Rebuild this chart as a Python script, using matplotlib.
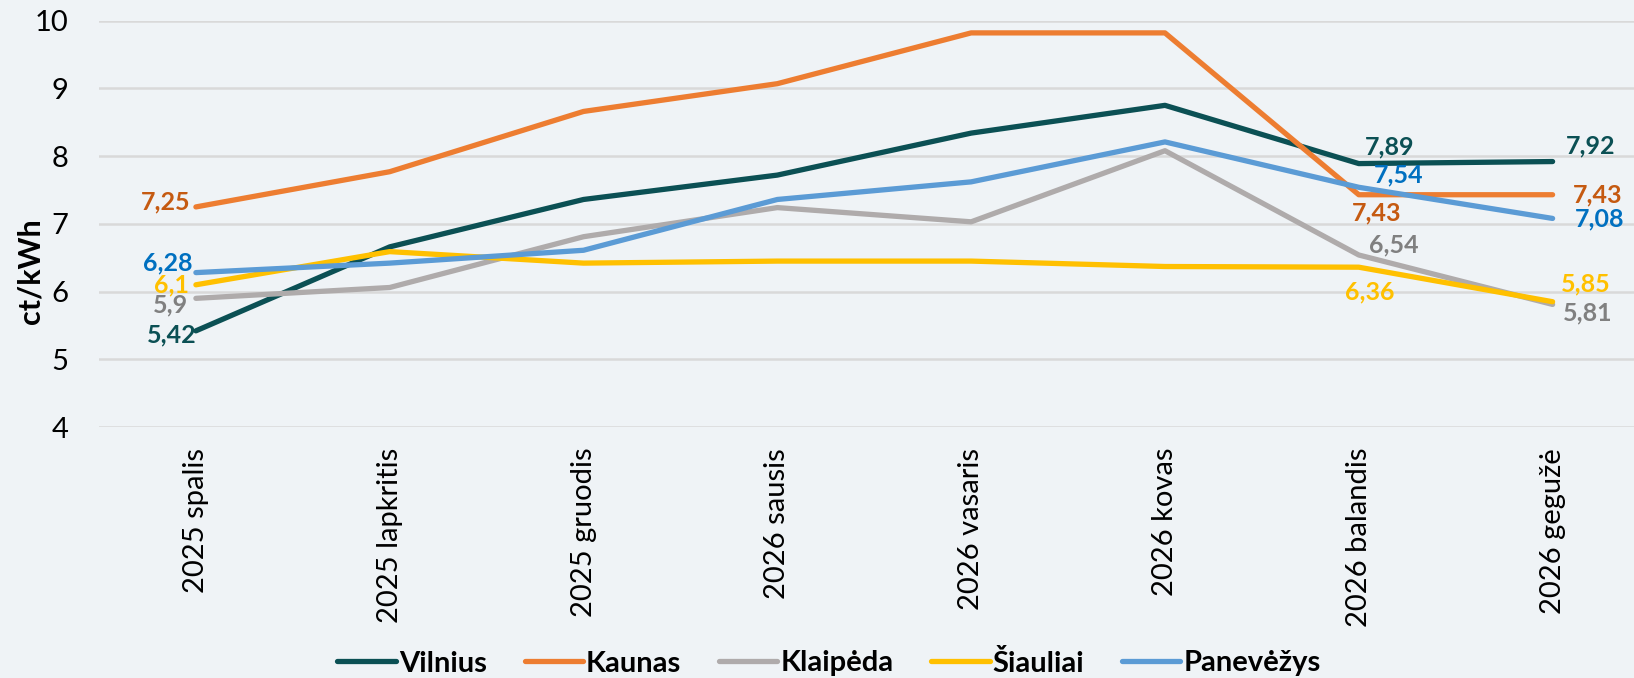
import matplotlib
matplotlib.use("Agg")
import matplotlib.pyplot as plt

plt.rcParams["font.family"] = ["Lato", "DejaVu Sans"]

months = ["2025 spalis", "2025 lapkritis", "2025 gruodis", "2026 sausis",
          "2026 vasaris", "2026 kovas", "2026 balandis", "2026 gegužė"]

vilnius = [5.42, 6.66, 7.36, 7.72, 8.34, 8.75, 7.89, 7.92]
kaunas = [7.25, 7.77, 8.66, 9.07, 9.82, 9.82, 7.43, 7.43]
klaipeda = [5.90, 6.06, 6.81, 7.24, 7.03, 8.08, 6.54, 5.81]
siauliai = [6.10, 6.59, 6.42, 6.45, 6.45, 6.37, 6.36, 5.85]
panevezys = [6.28, 6.42, 6.61, 7.36, 7.62, 8.21, 7.54, 7.08]

# (name, values, line colour, label colour)
series = [
    ("Vilnius", vilnius, "#0B5054", "#0B5054"),
    ("Kaunas", kaunas, "#ED7D31", "#C55A11"),
    ("Klaipėda", klaipeda, "#AFABAB", "#808080"),
    ("Šiauliai", siauliai, "#FFC000", "#FFC000"),
    ("Panevėžys", panevezys, "#5B9BD5", "#0070C0"),
]

# which points get a value label, and pixel offsets for them
label_spots = {
    "Vilnius": [(0, -24, -4), (6, 31, 17), (7, 38, 16)],
    "Kaunas": [(0, -30, 5), (6, 18, -18), (7, 45, 0)],
    "Klaipėda": [(0, -25, -7), (6, 35, 10), (7, 35, -8)],
    "Šiauliai": [(0, -24, 0), (6, 11, -25), (7, 33, 18)],
    "Panevėžys": [(0, -28, 10), (6, 40, 12), (7, 47, 0)],
}

bg = "#EFF3F6"
fig = plt.figure(figsize=(16.34, 6.78), dpi=100, facecolor=bg)
ax = fig.add_axes([99 / 1634, 1 - 427 / 678, 1 - 99 / 1634, (427 - 20.7) / 678])
ax.set_facecolor(bg)

x = list(range(len(months)))
for name, vals, col, lcol in series:
    ax.plot(x, vals, color=col, lw=3.8, label=name, solid_capstyle="round", zorder=3)
    for i, dx, dy in label_spots[name]:
        txt = f"{vals[i]:.2f}".rstrip("0").replace(".", ",")
        ax.annotate(txt, (x[i], vals[i]), xytext=(dx, dy), textcoords="offset pixels",
                    ha="center", va="center", color=lcol, fontsize=18,
                    fontweight="bold", zorder=4)

ax.set_xlim(-0.5, 7.42)
ax.set_ylim(4, 10)
ax.set_yticks(range(4, 11))
ax.set_xticks(x)
ax.set_xticklabels(months, rotation=90, fontsize=21)
ax.tick_params(axis="y", labelsize=21, length=0, pad=22)
ax.tick_params(axis="x", length=0, pad=15)
ax.grid(axis="y", color="#D9D9D9", lw=1.8, zorder=0)
for sp in ax.spines.values():
    sp.set_visible(False)

fig.text(30 / 1634, 1 - 271 / 678, "ct/kWh", rotation=90, ha="center", va="center",
         fontsize=22, fontweight="bold")

fig.legend(loc="center", bbox_to_anchor=(829 / 1634, 1 - 663 / 678), ncol=5,
           frameon=False, prop={"weight": "bold", "size": 21}, handlelength=2.0,
           handletextpad=0.1, columnspacing=1.3)

fig.savefig("out.png", dpi=100, facecolor=bg)
